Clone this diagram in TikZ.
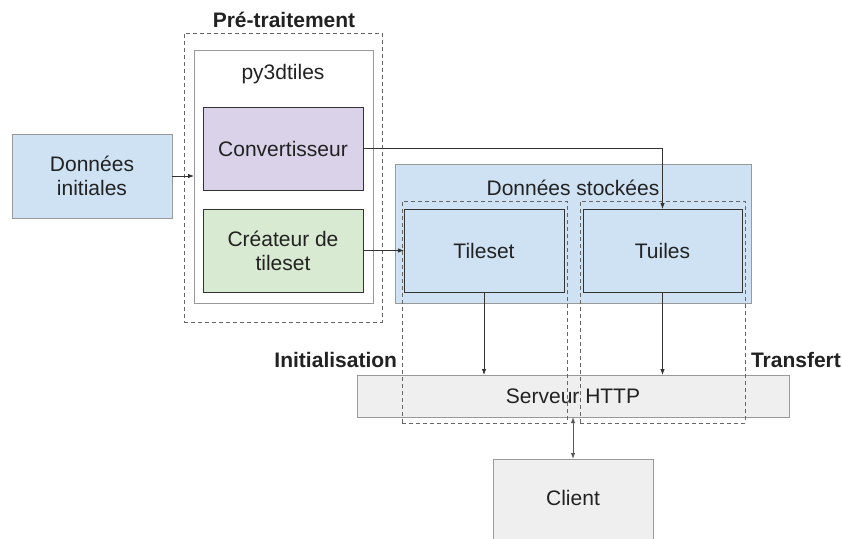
\documentclass[tikz,border=0pt]{standalone}
\usepackage{fontspec}
\setmainfont{Liberation Sans}
\usetikzlibrary{arrows.meta,calc}
\definecolor{lblue}{HTML}{CFE2F3}
\definecolor{lpurple}{HTML}{D9D2E9}
\definecolor{lgreen}{HTML}{D9EAD3}
\definecolor{lgray}{HTML}{EFEFEF}
\definecolor{bgray}{HTML}{999999}
\definecolor{bdark}{HTML}{333333}
\definecolor{txt}{HTML}{222222}
\begin{document}
\begin{tikzpicture}[x=1pt,y=-1pt,
  every node/.style={inner sep=0pt,outer sep=0pt,text=txt,font=\fontsize{21}{24}\selectfont,align=center},
  box/.style={draw=bgray,line width=1pt,rectangle},
  inbox/.style={draw=bdark,line width=1pt,rectangle},
  dbox/.style={draw=black!60,line width=0.8pt,dash pattern=on 4pt off 3pt,rectangle},
  bold/.style={font=\fontsize{21}{24}\selectfont\bfseries},
  conn/.style={draw=bdark,line width=0.8pt,-{Latex[length=6pt,width=4.5pt]}},
  bconn/.style={draw=black!65,line width=1pt,{Latex[length=6pt,width=4.5pt]}-{Latex[length=6pt,width=4.5pt]}}]
\clip (0,0) rectangle (842,538);
\fill[white] (0,0) rectangle (842,538);
% left
\node[box,fill=lblue,minimum width=160pt,minimum height=84pt] (di) at (92,176) {Données\\initiales};
% pre-traitement
\node[box,fill=white,minimum width=179pt,minimum height=253pt] (py) at (283.5,176.5) {};
\node (pylabel) at (283,74) {py3dtiles};
\node[inbox,fill=lpurple,minimum width=160pt,minimum height=83pt] (conv) at (283,148.5) {Convertisseur};
\node[inbox,fill=lgreen,minimum width=160pt,minimum height=83pt] (crea) at (283,250.5) {Créateur de\\tileset};
\node[dbox,minimum width=198pt,minimum height=289pt] (pre) at (283,177.5) {};
\node[bold] (prelabel) at (284,20) {Pré-traitement};
% stored data
\node[box,fill=lblue,minimum width=356pt,minimum height=139pt] (ds) at (573,233.5) {};
\node (dslabel) at (573,188) {Données stockées};
\node[inbox,fill=lblue,minimum width=160pt,minimum height=83pt] (tileset) at (484,250.5) {Tileset};
\node[inbox,fill=lblue,minimum width=159pt,minimum height=83pt] (tuiles) at (662.5,250.5) {Tuiles};
% server and client
\node[box,fill=lgray,minimum width=432pt,minimum height=42pt] (srv) at (573,396) {Serveur HTTP};
\node[box,fill=lgray,minimum width=160pt,minimum height=110pt] (client) at (573,514) {};
\node (clientlabel) at (573,498) {Client};
% dashed groups
\node[dbox,minimum width=165pt,minimum height=222pt] (init) at (484.5,312) {};
\node[dbox,minimum width=165pt,minimum height=222pt] (trans) at (662.5,312) {};
\node[bold,anchor=east] (initlabel) at (397,360) {Initialisation};
\node[bold,anchor=west] (translabel) at (751,360) {Transfert};
% connectors
\draw[conn] (di.east) -- (di.east -| py.west);
\draw[conn] (conv.east) -| (tuiles.north);
\draw[conn] (crea.east) -- (crea.east -| tileset.west);
\draw[conn] (tileset.south) -- (tileset.south |- srv.north);
\draw[conn] (tuiles.south) -- (tuiles.south |- srv.north);
\draw[bconn] (srv.south) -- (client.north);
\end{tikzpicture}
\end{document}
